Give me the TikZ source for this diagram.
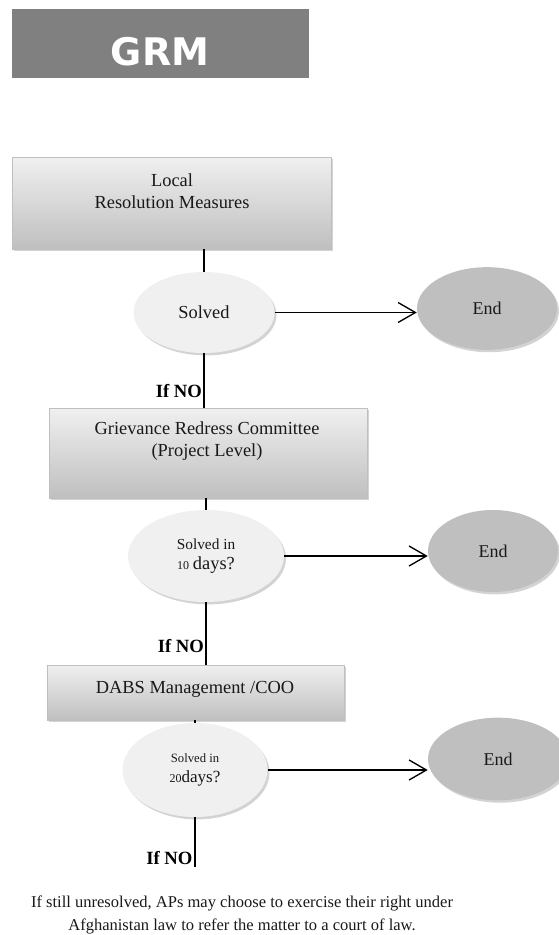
\documentclass[tikz,border=0pt]{standalone}
\usepackage{fontspec}
\setmainfont{Liberation Serif}
\newfontfamily\grmfont{DejaVu Sans}
\usetikzlibrary{shapes.geometric, shadows, arrows.meta}

\begin{document}
\begin{tikzpicture}[x=0.75pt, y=-0.75pt,
    shade/.style={drop shadow={opacity=0.35, shadow xshift=1.5pt, shadow yshift=-1.8pt}},
    box/.style={draw=black!25, top color=black!6, bottom color=black!25, shade, inner sep=0pt},
    solved/.style={ellipse, fill=black!6, shade, inner sep=0pt, align=center, text=black!90},
    endnode/.style={ellipse, fill=black!25, shade, inner sep=0pt, text=black!90,
        font=\fontsize{13.5}{16}\selectfont, minimum width=105pt, minimum height=62pt},
    boxtext/.style={font=\fontsize{13.8}{16.5}\selectfont, align=center, text=black!90},
    ifno/.style={font=\fontsize{14}{14}\selectfont\bfseries, inner sep=1pt},
    arrow/.style={line width=1.3pt, -{Straight Barb[length=13pt, width=15pt, line width=1pt]}},
    link/.style={line width=1pt}]

    \useasboundingbox (0,0) rectangle (559,935);

    % title
    \node[fill=black!50, minimum width=222.75pt, minimum height=51.75pt, inner sep=0pt] (grm) at (160.5,43.5) {};
    \node[text=white, font=\grmfont\bfseries\fontsize{28.5}{28.5}\selectfont, inner sep=0pt] (grmlabel) at (160,51.5) {GRM};

    % boxes
    \node[box, minimum width=239.25pt, minimum height=69pt] (local) at (171.5,203) {};
    \node[box, minimum width=238.5pt, minimum height=67.5pt] (grc) at (208,453) {};
    \node[box, minimum width=222.75pt, minimum height=41.25pt] (dabs) at (195.5,692.5) {};
    \node[boxtext] (localtext) at (172,191) {Local\\Resolution Measures};
    \node[boxtext] (grctext) at (207,441) {Grievance Redress Committee\\(Project Level)};
    \node[boxtext] (dabstext) at (195,689) {DABS Management /COO};

    % decisions
    \node[solved, minimum width=105.75pt, minimum height=60.75pt,
        font=\fontsize{13.8}{16}\selectfont] (solved1) at (204,312.5) {Solved};
    \node[solved, minimum width=117pt, minimum height=69pt,
        font=\fontsize{11.5}{15}\selectfont] (solved2) at (206,556)
        {Solved in\\{\fontsize{9}{9}\selectfont 10} {\fontsize{13.8}{15}\selectfont days?}};
    \node[solved, minimum width=108.75pt, minimum height=70.5pt,
        font=\fontsize{9.5}{15}\selectfont] (solved3) at (195,770)
        {Solved in\\{\fontsize{9}{9}\selectfont 20}{\fontsize{12.8}{15}\selectfont days?}};

    \node[endnode] (end1) at (487,308.5) {End};
    \node[endnode, minimum width=97.5pt, minimum height=61.5pt] (end2) at (493,551) {End};
    \node[endnode] (end3) at (498,759) {End};

    \coordinate (last) at (195,867);

    % connectors
    \draw[link] (solved1.north) -- (solved1.north |- local.south);
    \draw[link] (solved1.south) -- (solved1.south |- grc.north)
        node[ifno, pos=0.82, anchor=base east] (ifno1) {If NO};
    \draw[link] (solved2.north) -- (solved2.north |- grc.south);
    \draw[link] (solved2.south) -- (solved2.south |- dabs.north)
        node[ifno, pos=0.8, anchor=base east] (ifno2) {If NO};
    \draw[link] (solved3.north) -- (solved3.north |- dabs.south);
    \draw[link] (solved3.south) -- (last);
    \node[ifno, anchor=base east] (ifno3) at (194,864) {If NO};

    \draw[arrow] (solved1.east) -- (solved1.east -| end1.west);
    \draw[arrow] (solved2.east) -- (solved2.east -| end2.west);
    \draw[arrow] (solved3.east) -- (solved3.east -| end3.west);

    \node[font=\fontsize{12.4}{17}\selectfont, align=center, text=black!90] (note) at (242,915)
        {If still unresolved, APs may choose to exercise their right under\\Afghanistan law to refer the matter to a court of law.};
\end{tikzpicture}
\end{document}
